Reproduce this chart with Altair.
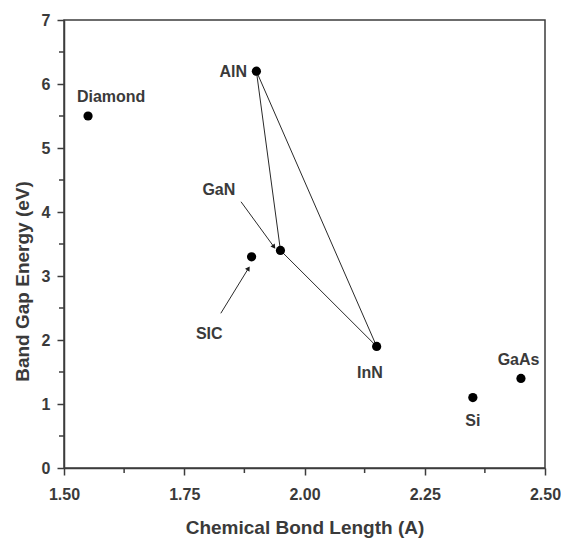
import altair as alt
import pandas as pd

# ---- data ----
materials = ["Diamond", "AlN", "GaN", "SiC", "InN", "Si", "GaAs"]
bond_length = [1.55, 1.90, 1.95, 1.89, 2.15, 2.35, 2.45]
band_gap = [5.5, 6.2, 3.4, 3.3, 1.9, 1.1, 1.4]

label_text = ["Diamond", "AlN", "GaN", "SIC", "InN", "Si", "GaAs"]
label_x = [1.598, 1.852, 1.822, 1.802, 2.136, 2.35, 2.445]
label_y = [5.80, 6.19, 4.34, 2.09, 1.48, 0.74, 1.68]

# triangle connecting the nitrides
seg_from = ["AlN", "AlN", "GaN"]
seg_to = ["GaN", "InN", "InN"]

# annotation arrows (label -> point)
arrow_x = [1.868, 1.826]
arrow_y = [4.16, 2.417]
arrow_x2 = [1.9365, 1.8835]
arrow_y2 = [3.455, 3.12]
arrow_angle = [144, 32]

x_major = [1.50, 1.75, 2.00, 2.25, 2.50]
x_minor = [1.625, 1.875, 2.125, 2.375]
y_major = [0, 1, 2, 3, 4, 5, 6, 7]
y_minor = [0.5, 1.5, 2.5, 3.5, 4.5, 5.5, 6.5]

FONT = "Liberation Sans"
DARK = "#3a3a3a"
AX = "#3c3c3c"

W, H = 481, 448

pts = pd.DataFrame({"m": materials, "x": bond_length, "y": band_gap})
lookup = dict(zip(materials, zip(bond_length, band_gap)))
segs = pd.DataFrame({
    "x": [lookup[a][0] for a in seg_from],
    "y": [lookup[a][1] for a in seg_from],
    "x2": [lookup[b][0] for b in seg_to],
    "y2": [lookup[b][1] for b in seg_to],
})
labels = pd.DataFrame({"t": label_text, "x": label_x, "y": label_y})
arrows = pd.DataFrame({"x": arrow_x, "y": arrow_y, "x2": arrow_x2,
                       "y2": arrow_y2, "a": arrow_angle})
xminor_df = pd.DataFrame({"x": x_minor})
yminor_df = pd.DataFrame({"y": y_minor})

xscale = alt.Scale(domain=[1.5, 2.5], nice=False, zero=False)
yscale = alt.Scale(domain=[0, 7], nice=False)

xaxis = alt.Axis(
    values=x_major, format=".2f",
    ticks=True, tickSize=7, labelPadding=11,
    title="Chemical Bond Length (A)",
    titleX=W / 2, titleY=50, titleBaseline="top",
    grid=False,
)
yaxis = alt.Axis(
    values=y_major, format="d",
    ticks=True, tickSize=7, labelPadding=7,
    title="Band Gap Energy (eV)",
    titleX=-32, titleY=261,
    grid=False,
)

lines = alt.Chart(segs).mark_rule(color="#2a2a2a", strokeWidth=1).encode(
    x=alt.X("x:Q", scale=xscale, axis=xaxis),
    y=alt.Y("y:Q", scale=yscale, axis=yaxis),
    x2="x2:Q", y2="y2:Q",
)

xminor = alt.Chart(xminor_df).mark_tick(
    orient="vertical", color=AX, thickness=1.5, size=5, opacity=1
).encode(x="x:Q", y=alt.value(H + 2.5))

yminor = alt.Chart(yminor_df).mark_tick(
    orient="horizontal", color=AX, thickness=1.5, size=5, opacity=1
).encode(y="y:Q", x=alt.value(-2.5))

arrow_lines = alt.Chart(arrows).mark_rule(color="#2a2a2a", strokeWidth=1).encode(
    x="x:Q", y="y:Q", x2="x2:Q", y2="y2:Q",
)
arrow_heads = alt.Chart(arrows).mark_point(
    shape="triangle-up", filled=True, color="#1a1a1a", size=28, opacity=1
).encode(
    x=alt.X("x2:Q"), y=alt.Y("y2:Q"), angle=alt.Angle("a:Q", scale=None),
)

points = alt.Chart(pts).mark_circle(color="#000000", size=85, opacity=1).encode(
    x="x:Q", y="y:Q",
)

texts = alt.Chart(labels).mark_text(
    font=FONT, fontSize=16, fontWeight="bold", color=DARK,
    align="center", baseline="middle",
).encode(x="x:Q", y="y:Q", text="t:N")

chart = alt.layer(lines, xminor, yminor, arrow_lines, arrow_heads, points, texts).properties(
    width=W, height=H,
    autosize=alt.AutoSizeParams(type="none"),
    padding={"left": 56, "top": 12, "right": 16, "bottom": 73},
    background="white",
).configure_view(
    stroke=AX, strokeWidth=1.5,
).configure_axis(
    domainColor=AX, domainWidth=1.5,
    tickColor=AX, tickWidth=1.5, tickOpacity=1,
    labelFont=FONT, labelFontSize=16, labelFontWeight="bold", labelColor=DARK,
    titleFont=FONT, titleFontSize=19, titleFontWeight="bold", titleColor=DARK,
    labelFlush=False, labelOverlap=False,
)

chart.save("out.html", embed_options={"renderer": "svg", "actions": False})
